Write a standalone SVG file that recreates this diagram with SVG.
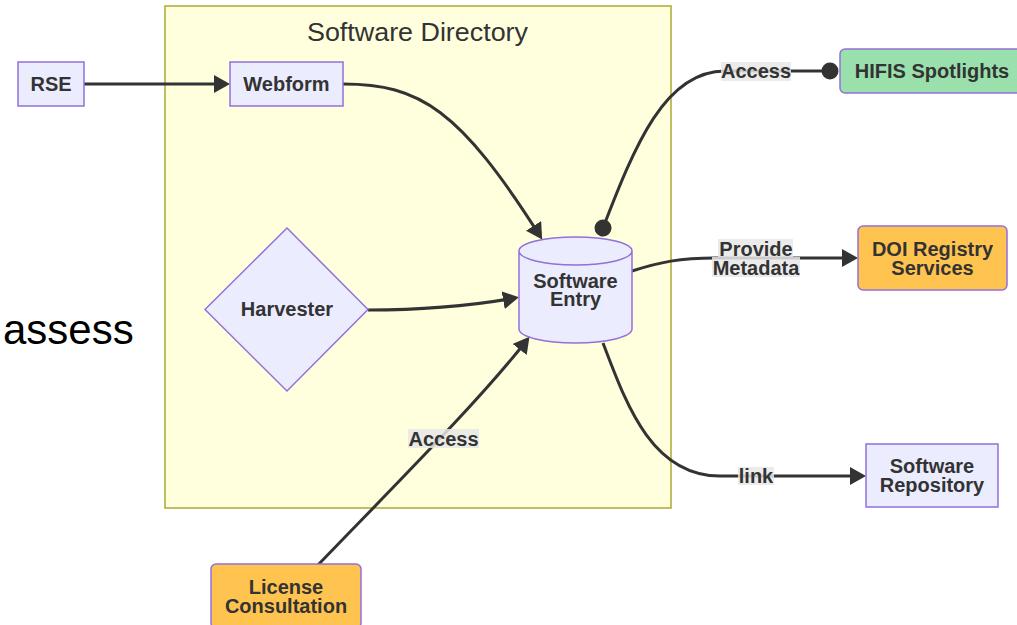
<svg xmlns="http://www.w3.org/2000/svg" width="1017" height="625" viewBox="0 0 1017 625">
<style>
.node{fill:#ececff;stroke:#9370db;stroke-width:1.5}
.orange{fill:#ffc44f}
.green{fill:#99e0ac}
.t{font-family:"Liberation Sans",Arial,sans-serif;font-weight:bold;font-size:20px;fill:#333;text-anchor:middle}
.edge{fill:none;stroke:#333;stroke-width:3}
.lbg{fill:#e8e8e8;opacity:0.85}
</style>
<defs>
<marker id="arrow" markerUnits="userSpaceOnUse" viewBox="0 0 16 18" refX="12" refY="9" markerWidth="16" markerHeight="18" orient="auto">
<path d="M0,0 L16,9 L0,18 Z" fill="#333"/>
</marker>
<marker id="dot" markerUnits="userSpaceOnUse" viewBox="0 0 18 18" refX="9" refY="9" markerWidth="18" markerHeight="18" orient="auto">
<circle cx="9" cy="9" r="8.5" fill="#333"/>
</marker>
</defs>
<rect width="1017" height="625" fill="#fff"/>
<g id="cluster-software-directory">
<rect x="165" y="6" width="506" height="502" fill="#ffffde" stroke="#aaaa33" stroke-width="1.5"/>
<text x="417.5" y="41" font-family="'Liberation Sans',Arial,sans-serif" font-size="25" fill="#333" text-anchor="middle" textLength="221" lengthAdjust="spacingAndGlyphs">Software Directory</text>
</g>
<text x="3" y="344" font-family="'Liberation Sans',Arial,sans-serif" font-size="42" fill="#000">assess</text>
<g id="connectors">
<path class="edge" d="M84,84 L226,84" marker-end="url(#arrow)"/>
<path class="edge" d="M343,84 C420,84 460,110 540,236" marker-end="url(#arrow)"/>
<path class="edge" d="M368,310 C420,310 470,306 515,298" marker-end="url(#arrow)"/>
<path class="edge" d="M318,565 C400,480 480,400 527,340" marker-end="url(#arrow)"/>
<path class="edge" d="M603,228 C635,145 665,71 725,71 L830,71" marker-start="url(#dot)" marker-end="url(#dot)"/>
<path class="edge" d="M632,271 C660,262 680,258 715,258 L854,258" marker-end="url(#arrow)"/>
<path class="edge" d="M603,343 C625,400 650,476 720,476 L862,476" marker-end="url(#arrow)"/>
<g id="edge-labels">
<rect class="lbg" x="721" y="62" width="70" height="19"/>
<text class="t" x="756" y="78">Access</text>
<rect class="lbg" x="718" y="239" width="75" height="18"/>
<rect class="lbg" x="712" y="257" width="88" height="20"/>
<text class="t" x="756" y="256">Provide</text>
<text class="t" x="756" y="275">Metadata</text>
<rect class="lbg" x="738" y="467" width="36" height="18"/>
<text class="t" x="756" y="483">link</text>
<rect class="lbg" x="408" y="429" width="71" height="19"/>
<text class="t" x="443.5" y="446">Access</text>
</g>
</g>
<g id="node-rse">
<rect class="node" x="18" y="62" width="66" height="44"/>
<text class="t" x="51" y="91">RSE</text>
</g>
<g id="node-webform">
<rect class="node" x="230" y="62" width="113" height="44"/>
<text class="t" x="286.5" y="91">Webform</text>
</g>
<g id="node-harvester">
<polygon class="node" points="287,228 368,309.5 287,391 205,309.5"/>
<text class="t" x="287" y="316">Harvester</text>
</g>
<g id="node-software-entry">
<path class="node" d="M519,251 a56.5,14 0 0,0 113,0 a56.5,14 0 0,0 -113,0 l0,78 a56.5,14 0 0,0 113,0 l0,-78"/>
<text class="t" x="575.5" y="288">Software</text>
<text class="t" x="575.5" y="306">Entry</text>
</g>
<g id="node-hifis-spotlights">
<rect class="node green" x="840" y="49" width="184" height="44" rx="5"/>
<text class="t" x="932" y="78">HIFIS Spotlights</text>
</g>
<g id="node-doi">
<rect class="node orange" x="858" y="226" width="149" height="64" rx="5"/>
<text class="t" x="932.5" y="256">DOI Registry</text>
<text class="t" x="932.5" y="275">Services</text>
</g>
<g id="node-repository">
<rect class="node" x="866" y="444" width="132" height="63"/>
<text class="t" x="932" y="473">Software</text>
<text class="t" x="932" y="492">Repository</text>
</g>
<g id="node-license">
<rect class="node orange" x="211" y="564" width="150" height="64" rx="5"/>
<text class="t" x="286" y="594">License</text>
<text class="t" x="286" y="613">Consultation</text>
</g>
</svg>
